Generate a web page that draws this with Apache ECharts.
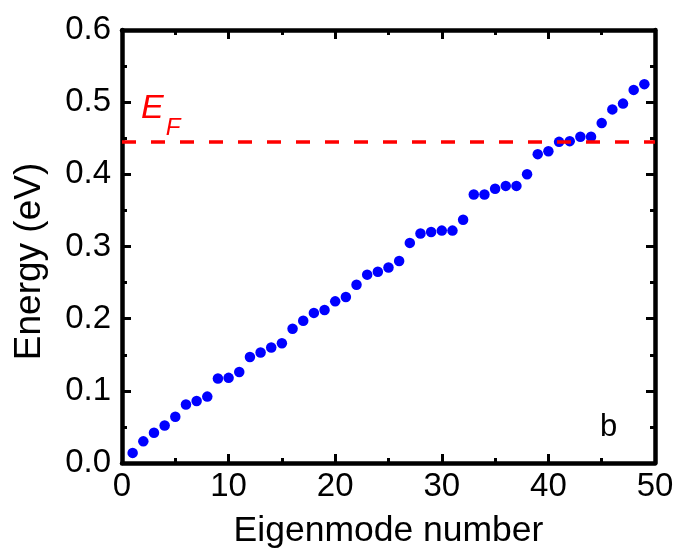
<!DOCTYPE html>
<html>
<head>
<meta charset="utf-8">
<title>Eigenmode energies</title>
<script src="https://cdn.jsdelivr.net/npm/echarts@6/dist/echarts.min.js"></script>
<style>
  html, body { margin: 0; padding: 0; background: #ffffff; }
  #chart { width: 679px; height: 554px; }
</style>
</head>
<body>
<div id="chart"></div>
<script>
// Eigenmode index (x) and its energy in eV (y)
var modeNumbers = [
  1, 2, 3, 4, 5, 6, 7, 8, 9, 10,
  11, 12, 13, 14, 15, 16, 17, 18, 19, 20,
  21, 22, 23, 24, 25, 26, 27, 28, 29, 30,
  31, 32, 33, 34, 35, 36, 37, 38, 39, 40,
  41, 42, 43, 44, 45, 46, 47, 48, 49
];
var energies = [
  0.014, 0.030, 0.042, 0.052, 0.064, 0.081, 0.086, 0.092, 0.117, 0.118,
  0.126, 0.147, 0.153, 0.160, 0.166, 0.186, 0.197, 0.208, 0.212, 0.224,
  0.230, 0.247, 0.261, 0.265, 0.271, 0.280, 0.305, 0.318, 0.320, 0.322,
  0.322, 0.337, 0.372, 0.372, 0.380, 0.384, 0.384, 0.400, 0.428, 0.432,
  0.445, 0.446, 0.452, 0.452, 0.471, 0.490, 0.498, 0.517, 0.525
];
// Fermi level (eV)
var fermiLevel = 0.445;

var xTicks = { min: 0, max: 50, interval: 10 };
var yTicks = { min: 0, max: 0.6, interval: 0.1 };

var FONT = '"Liberation Sans", Arial, Helvetica, sans-serif';

var points = modeNumbers.map(function (n, i) { return [n, energies[i]]; });

// Frame styling: every side of the box gets its own copy
function frameParts() {
  return {
    axisLine: { show: true, onZero: false, lineStyle: { color: '#000000', width: 4.5, opacity: 1 } },
    axisTick: { show: true, inside: true, length: 9, lineStyle: { color: '#000000', width: 3, opacity: 1 } },
    minorTick: { show: true, splitNumber: 2, length: 5, lineStyle: { color: '#000000', width: 3, opacity: 1 } },
    splitLine: { show: false },
    minorSplitLine: { show: false }
  };
}
function axis(base) {
  var parts = frameParts();
  for (var k in parts) { base[k] = parts[k]; }
  return base;
}

var chart = echarts.init(document.getElementById('chart'), null, { renderer: 'canvas' });

chart.setOption({
  backgroundColor: '#ffffff',
  animation: false,
  grid: { left: 122, right: 24, top: 30, bottom: 91, containLabel: false },
  xAxis: [
    axis({
      type: 'value', position: 'bottom',
      min: xTicks.min, max: xTicks.max, interval: xTicks.interval,
      name: 'Eigenmode number', nameLocation: 'middle', nameGap: 50,
      nameTextStyle: { fontFamily: FONT, fontSize: 35.5, color: '#000' },
      axisLabel: { fontFamily: FONT, fontSize: 33, color: '#000', margin: 7 }
    }),
    axis({
      type: 'value', position: 'top',
      min: xTicks.min, max: xTicks.max, interval: xTicks.interval,
      axisLabel: { show: false }
    })
  ],
  yAxis: [
    axis({
      type: 'value', position: 'left',
      min: yTicks.min, max: yTicks.max, interval: yTicks.interval,
      name: 'Energy (eV)', nameLocation: 'middle', nameGap: 74, nameRotate: 90,
      nameTextStyle: { fontFamily: FONT, fontSize: 37, color: '#000', padding: [0, 30, 0, 0] },
      axisLabel: {
        fontFamily: FONT, fontSize: 33, color: '#000', margin: 11,
        formatter: function (v) { return v.toFixed(1); }
      }
    }),
    axis({
      type: 'value', position: 'right',
      min: yTicks.min, max: yTicks.max, interval: yTicks.interval,
      axisLabel: { show: false }
    })
  ],
  series: [
    {
      type: 'scatter',
      data: points,
      symbol: 'circle',
      symbolSize: 10.5,
      itemStyle: { color: '#0000ff', opacity: 1 },
      markLine: {
        silent: true,
        precision: 4,
        symbol: ['none', 'none'],
        label: { show: false },
        lineStyle: { color: '#ff0000', width: 3.5, type: [14, 15], opacity: 1 },
        data: [{ yAxis: fermiLevel }]
      }
    }
  ],
  graphic: [
    {
      type: 'text', left: 141, top: 92,
      style: {
        text: '{e|E}{f|F}',
        rich: {
          e: { fontFamily: FONT, fontStyle: 'italic', fontSize: 34, fill: '#ff0000', verticalAlign: 'bottom' },
          f: { fontFamily: FONT, fontStyle: 'italic', fontSize: 24, fill: '#ff0000', verticalAlign: 'bottom', padding: [0, 0, -14, 2] }
        }
      }
    },
    {
      type: 'text', left: 600, top: 412,
      style: { text: 'b', fontFamily: FONT, fontSize: 31, fill: '#000' }
    }
  ]
});
</script>
</body>
</html>
